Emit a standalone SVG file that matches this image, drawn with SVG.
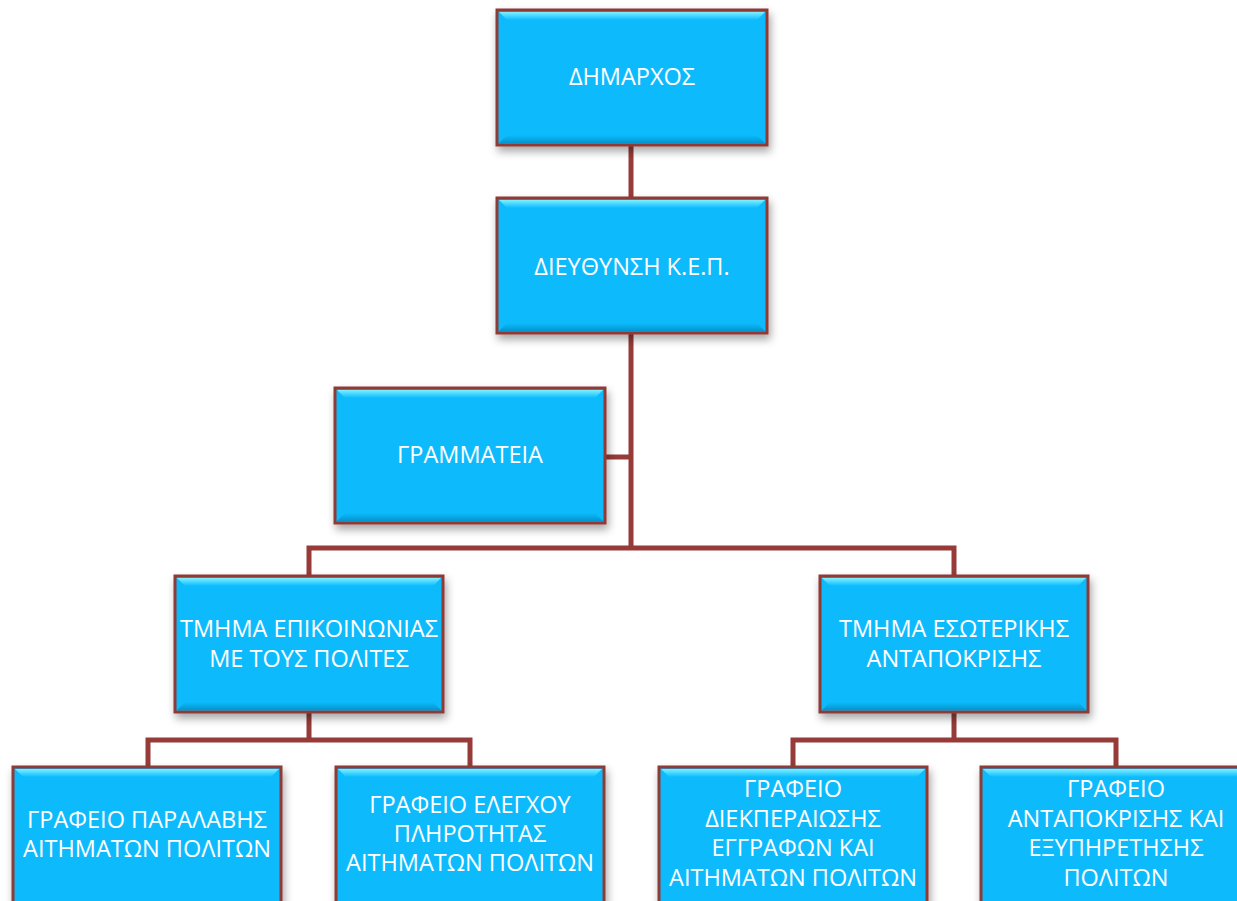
<svg xmlns="http://www.w3.org/2000/svg" width="1237" height="901" viewBox="0 0 1237 901">
<defs>
<filter id="sh" x="-10%" y="-10%" width="125%" height="130%">
<feDropShadow dx="2" dy="5" stdDeviation="4" flood-color="#000" flood-opacity="0.35"/>
</filter>
<linearGradient id="top" x1="0" y1="0" x2="0" y2="1"><stop offset="0" stop-color="#7FF0FF"/><stop offset="1" stop-color="#0ABCFF"/></linearGradient>
<linearGradient id="bot" x1="0" y1="0" x2="0" y2="1"><stop offset="0" stop-color="#0ABCFF"/><stop offset="1" stop-color="#0694CC"/></linearGradient>
<style>
.box{fill:#09BBFD;stroke:#8E3B36;stroke-width:3;filter:url(#sh)}
.bt{fill:url(#top)}
.bb{fill:url(#bot)}
.t{font-family:"Open Sans","Liberation Sans",sans-serif;font-size:23.5px;fill:#fff;text-anchor:middle}
.c{fill:none;stroke:#963B38;stroke-width:5;stroke-linejoin:miter}
</style>
</defs>
<g id="connectors">
<path class="c" d="M631 145V198"/>
<path class="c" d="M631 333V548"/>
<path class="c" d="M605 457H631"/>
<path class="c" d="M309 576V548H954V576"/>
<path class="c" d="M309 712V740"/>
<path class="c" d="M148 767V740H470V767"/>
<path class="c" d="M954 712V740"/>
<path class="c" d="M793 767V740H1116V767"/>
</g>
<g id="n1">
<rect class="box" x="497" y="10" width="270" height="135"/>
<path class="bt" d="M499 12H765L757 20H507Z"/>
<path class="bb" d="M499 143H765L757 135H507Z"/>
<text class="t" x="632" y="85">ΔΗΜΑΡΧΟΣ</text>
</g>
<g id="n2">
<rect class="box" x="497" y="198" width="270" height="135"/>
<path class="bt" d="M499 200H765L757 208H507Z"/>
<path class="bb" d="M499 331H765L757 323H507Z"/>
<text class="t" x="632" y="275">ΔΙΕΥΘΥΝΣΗ Κ.Ε.Π.</text>
</g>
<g id="n3">
<rect class="box" x="335" y="388" width="270" height="135"/>
<path class="bt" d="M337 390H603L595 398H345Z"/>
<path class="bb" d="M337 521H603L595 513H345Z"/>
<text class="t" x="470" y="463">ΓΡΑΜΜΑΤΕΙΑ</text>
</g>
<g id="n4">
<rect class="box" x="175" y="576" width="268" height="136"/>
<path class="bt" d="M177 578H441L433 586H185Z"/>
<path class="bb" d="M177 710H441L433 702H185Z"/>
<text class="t" x="309" y="637">ΤΜΗΜΑ ΕΠΙΚΟΙΝΩΝΙΑΣ</text>
<text class="t" x="309" y="667">ΜΕ ΤΟΥΣ ΠΟΛΙΤΕΣ</text>
</g>
<g id="n5">
<rect class="box" x="820" y="576" width="268" height="136"/>
<path class="bt" d="M822 578H1086L1078 586H830Z"/>
<path class="bb" d="M822 710H1086L1078 702H830Z"/>
<text class="t" x="954" y="637">ΤΜΗΜΑ ΕΣΩΤΕΡΙΚΗΣ</text>
<text class="t" x="954" y="667">ΑΝΤΑΠΟΚΡΙΣΗΣ</text>
</g>
<g id="n6">
<rect class="box" x="13" y="767" width="268" height="140"/>
<path class="bt" d="M15 769H279L271 777H23Z"/>
<text class="t" x="147" y="828">ΓΡΑΦΕΙΟ ΠΑΡΑΛΑΒΗΣ</text>
<text class="t" x="147" y="857">ΑΙΤΗΜΑΤΩΝ ΠΟΛΙΤΩΝ</text>
</g>
<g id="n7">
<rect class="box" x="336" y="767" width="268" height="140"/>
<path class="bt" d="M338 769H602L594 777H346Z"/>
<text class="t" x="470" y="813">ΓΡΑΦΕΙΟ ΕΛΕΓΧΟΥ</text>
<text class="t" x="470" y="842">ΠΛΗΡΟΤΗΤΑΣ</text>
<text class="t" x="470" y="871">ΑΙΤΗΜΑΤΩΝ ΠΟΛΙΤΩΝ</text>
</g>
<g id="n8">
<rect class="box" x="659" y="767" width="268" height="140"/>
<path class="bt" d="M661 769H925L917 777H669Z"/>
<text class="t" x="793" y="797">ΓΡΑΦΕΙΟ</text>
<text class="t" x="793" y="827">ΔΙΕΚΠΕΡΑΙΩΣΗΣ</text>
<text class="t" x="793" y="856">ΕΓΓΡΑΦΩΝ ΚΑΙ</text>
<text class="t" x="793" y="886">ΑΙΤΗΜΑΤΩΝ ΠΟΛΙΤΩΝ</text>
</g>
<g id="n9">
<rect class="box" x="981" y="767" width="268" height="140"/>
<path class="bt" d="M983 769H1247L1239 777H991Z"/>
<text class="t" x="1116" y="797">ΓΡΑΦΕΙΟ</text>
<text class="t" x="1116" y="827">ΑΝΤΑΠΟΚΡΙΣΗΣ ΚΑΙ</text>
<text class="t" x="1116" y="856">ΕΞΥΠΗΡΕΤΗΣΗΣ</text>
<text class="t" x="1116" y="886">ΠΟΛΙΤΩΝ</text>
</g>
</svg>
